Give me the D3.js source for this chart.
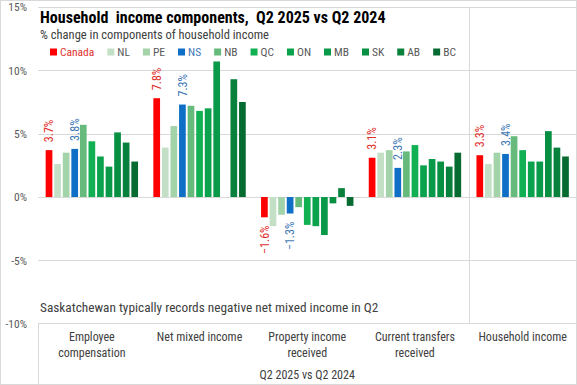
<!DOCTYPE html>
<html><head><meta charset="utf-8">
<script src="https://cdn.jsdelivr.net/npm/d3@7"></script>
<style>
html,body{margin:0;padding:0;background:#fff;}
svg{display:block;}
text{font-family:"Liberation Sans Narrow","Arial Narrow","Roboto Condensed",sans-serif;}
</style></head>
<body><svg id="c" width="577" height="385"></svg>
<script>
const categoryLines = [["Employee","compensation"],["Net mixed income"],["Property income","received"],["Current transfers","received"],["Household income"]];
const categories = ["Employee compensation","Net mixed income","Property income received","Current transfers received","Household income"];
const series = ["Canada","NL","PE","NS","NB","QC","ON","MB","SK","AB","BC"];
const canada = [3.7, 7.8, -1.6, 3.1, 3.3];
const nl = [2.6, 3.9, -2.3, 3.5, 2.6];
const pe = [3.5, 5.6, -1.4, 3.7, 3.5];
const ns = [3.8, 7.3, -1.3, 2.3, 3.4];
const nb = [5.7, 7.2, -0.8, 3.6, 4.8];
const qc = [4.4, 6.8, -2.2, 4.1, 3.7];
const on = [3.2, 7.0, -2.3, 2.5, 2.8];
const mb = [2.4, 10.7, -3.0, 3.0, 2.8];
const sk = [5.1, null, -0.5, 2.8, 5.2];
const ab = [4.3, 9.3, 0.7, 2.4, 3.9];
const bc = [2.8, 7.5, -0.7, 3.5, 3.2];
const seriesValues = [canada, nl, pe, ns, nb, qc, on, mb, sk, ab, bc];
const labeledSeries = ["Canada","NS"];
const yTicks = [-10, -5, 0, 5, 10, 15];
const titleText = "Household  income components,  Q2 2025 vs Q2 2024";
const subtitleText = "% change in components of household income";
const noteText = "Saskatchewan typically records negative net mixed income in Q2";
const axisTitle = "Q2 2025 vs Q2 2024";

const colors = ["#ff0000","#c3e0c6","#a3d3a9","#0f6fc6","#66bb7c","#11b153","#0aa24c","#089a48","#078f42","#07813b","#066b30"];
const labelColors = {"Canada":"#e0302b","NS":"#3f78b5"};

const svg = d3.select("#c");
const W = 577, H = 385;
const x0 = d3.scaleBand().domain(categories).range([38, 576.5]).paddingInner(0).paddingOuter(0);
const x1 = d3.scaleBand().domain(series).range([0, x0.bandwidth()]).paddingInner(0.218).paddingOuter(0.893);
const y = d3.scaleLinear().domain([-10, 15]).range([323.7, 7]);

// chart border
svg.append("rect").attr("x",0.5).attr("y",0.5).attr("width",W-1).attr("height",H-1)
  .attr("fill","#fff").attr("stroke","#d9d9d9");

// gridlines
svg.append("g").selectAll("line").data(yTicks.filter(d=>d>-10)).join("line")
  .attr("x1",38).attr("x2",577).attr("y1",d=>Math.round(y(d))+0.5).attr("y2",d=>Math.round(y(d))+0.5)
  .attr("stroke","#d9d9d9");

// y-axis labels
const yAxis = d3.axisLeft(y).tickValues(yTicks).tickFormat(d=>d+"%").tickSize(0).tickPadding(0);
const yg = svg.append("g").attr("transform","translate(27,0)").call(yAxis);
yg.select(".domain").remove();
yg.selectAll("text").attr("font-size",11.5).attr("fill","#595959")
  .attr("font-family",'"Liberation Sans Narrow","Arial Narrow",sans-serif');

// vertical divider line
svg.append("line").attr("x1",469.5).attr("x2",469.5).attr("y1",7).attr("y2",323.7).attr("stroke","#d9d9d9");

// bars
const gGroups = svg.append("g").selectAll("g").data(categories).join("g")
  .attr("transform",d=>`translate(${x0(d)},0)`);
gGroups.each(function(cat, ci){
  const g = d3.select(this);
  const data = series.map((s,si)=>({s, si, v: seriesValues[si][ci]})).filter(d=>d.v!==null);
  g.selectAll("rect").data(data).join("rect")
    .attr("x",d=>x1(d.s)).attr("width",x1.bandwidth())
    .attr("y",d=>y(Math.max(0,d.v))).attr("height",d=>Math.abs(y(d.v)-y(0)))
    .attr("fill",d=>colors[d.si]);
  g.selectAll("text.lbl").data(data.filter(d=>labeledSeries.includes(d.s))).join("text")
    .attr("class","lbl")
    .attr("transform",d=>{
      const cx = x1(d.s)+x1.bandwidth()/2;
      const yy = d.v>=0 ? y(d.v)-8 : y(d.v)+8;
      return `translate(${cx+4.2},${yy}) rotate(-90)`;
    })
    .attr("text-anchor",d=>d.v>=0?"start":"end")
    .attr("font-size",12).attr("fill",d=>labelColors[d.s])
    .text(d=>d3.format(".1f")(d.v)+"%");
});

// category axis box
svg.append("line").attr("x1",38).attr("x2",577).attr("y1",323.5).attr("y2",323.5).attr("stroke","#d9d9d9");
svg.append("line").attr("x1",38.5).attr("x2",38.5).attr("y1",323.5).attr("y2",385).attr("stroke","#d9d9d9");

const cg = svg.append("g").selectAll("text").data(categories).join("text")
  .attr("x",d=>x0(d)+x0.bandwidth()/2).attr("y",341)
  .attr("text-anchor","middle").attr("font-size",12).attr("fill","#404040");
cg.each(function(d,i){
  const t = d3.select(this);
  categoryLines[i].forEach((ln,k)=>{
    t.append("tspan").attr("x",x0(d)+x0.bandwidth()/2).attr("dy",k===0?0:16).text(ln);
  });
});
svg.append("text").attr("x",(38+576.5)/2).attr("y",379).attr("text-anchor","middle")
  .attr("font-size",12).attr("fill","#404040").text(axisTitle);

// title
svg.append("text").attr("x",40).attr("y",22.5).attr("font-size",16).attr("font-weight","bold")
  .attr("fill","#000").attr("xml:space","preserve").style("white-space","pre").text(titleText);
svg.append("text").attr("x",40).attr("y",38.5).attr("font-size",12.5).attr("fill","#404040").text(subtitleText);

// note
svg.append("text").attr("x",40).attr("y",311.5).attr("font-size",13.3).attr("fill","#404040").text(noteText);

// legend
const lg = svg.append("g");
let lx = 50;
series.forEach((s,i)=>{
  lg.append("rect").attr("x",lx).attr("y",48.5).attr("width",7).attr("height",7).attr("fill",colors[i]);
  const t = lg.append("text").attr("x",lx+10).attr("y",56).attr("font-size",11.5)
    .attr("fill", labelColors[s] ? (s==="Canada"?"#e0302b":"#3f78b5") : "#595959").text(s);
  lx += 10 + t.node().getComputedTextLength() + 13;
});
</script>
</body></html>
